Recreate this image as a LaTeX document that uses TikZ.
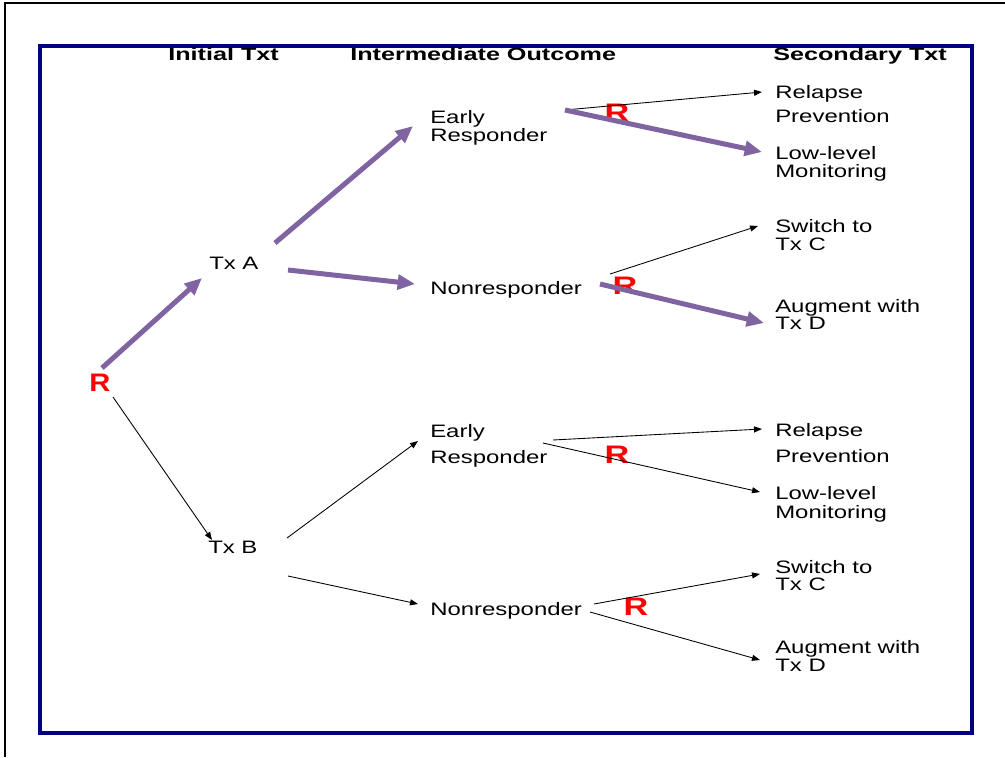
\documentclass[tikz,border=0pt]{standalone}
\usepackage{fontspec}
\usepackage{graphicx}
\setmainfont{Liberation Sans}
\usetikzlibrary{arrows.meta}
\definecolor{purp}{RGB}{128,100,162}
\definecolor{navyframe}{RGB}{0,0,128}
\newcommand\sx[1]{\scalebox{1.33}[1]{#1}}
\newcommand\sh[1]{\scalebox{1.42}[1]{#1}}
\newcommand\sr[1]{\scalebox{1.35}[1]{#1}}
\tikzset{
  lbl/.style={anchor=base west, inner sep=0pt, font=\fontsize{13.5}{15}\selectfont},
  hdr/.style={anchor=base west, inner sep=0pt, font=\bfseries\fontsize{13.3}{15}\selectfont},
  rnd/.style={text=red, inner sep=0pt, font=\bfseries\fontsize{19}{20}\selectfont},
  bigarrow/.style={draw=purp, line width=3.75pt, -{Triangle[length=13pt,width=11pt]}},
  smallarrow/.style={draw=black, line width=0.65pt, -{Triangle[length=6pt,width=4.5pt]}},
}
\begin{document}
\begin{tikzpicture}[x=0.75pt,y=-0.75pt]
\useasboundingbox (0,0) rectangle (1005,757);
% frames
\draw[black, line width=1.5pt] (5,757) -- (5,3) -- (1005,3);
\draw[navyframe, line width=3pt] (40,46) rectangle (972,733);
% headers
\node[hdr] (h1) at (168,60) {\sh{Initial Txt}};
\node[hdr] (h2) at (350,60) {\sh{Intermediate Outcome}};
\node[hdr] (h3) at (773,60) {\sh{Secondary Txt}};
% randomisation marks
\node[rnd] (R0) at (100,383) {\scalebox{1.15}[1]{R}};
\node[rnd] (R1) at (617,113) {\sr{R}};
\node[rnd] (R2) at (625,286) {\sr{R}};
\node[rnd] (R3) at (617,455) {\sr{R}};
\node[rnd] (R4) at (636,607) {\sr{R}};
% initial treatments
\node[lbl] (TxA) at (209,269) {\sx{Tx A}};
\node[lbl] (TxB) at (208,553) {\sx{Tx B}};
% intermediate outcomes
\node[lbl] (ER1a) at (430,123) {\sx{Early}};
\node[lbl] (ER1b) at (430,141) {\sx{Responder}};
\node[lbl] (NR1) at (430,294) {\sx{Nonresponder}};
\node[lbl] (ER2a) at (430,437) {\sx{Early}};
\node[lbl] (ER2b) at (430,463) {\sx{Responder}};
\node[lbl] (NR2) at (430,615) {\sx{Nonresponder}};
% secondary treatments
\node[lbl] (RP1a) at (775,98) {\sx{Relapse}};
\node[lbl] (RP1b) at (775,122) {\sx{Prevention}};
\node[lbl] (LL1a) at (775,159) {\sx{Low-level}};
\node[lbl] (LL1b) at (775,177) {\sx{Monitoring}};
\node[lbl] (SW1a) at (775,232) {\sx{Switch to}};
\node[lbl] (SW1b) at (775,250) {\sx{Tx C}};
\node[lbl] (AU1a) at (775,312) {\sx{Augment with}};
\node[lbl] (AU1b) at (775,329) {\sx{Tx D}};
\node[lbl] (RP2a) at (775,436) {\sx{Relapse}};
\node[lbl] (RP2b) at (775,462) {\sx{Prevention}};
\node[lbl] (LL2a) at (775,499) {\sx{Low-level}};
\node[lbl] (LL2b) at (775,518) {\sx{Monitoring}};
\node[lbl] (SW2a) at (775,573) {\sx{Switch to}};
\node[lbl] (SW2b) at (775,590) {\sx{Tx C}};
\node[lbl] (AU2a) at (775,653) {\sx{Augment with}};
\node[lbl] (AU2b) at (775,671) {\sx{Tx D}};
% connector end points
\coordinate (c1s) at (102,368); \coordinate (c1e) at (202,278);
\coordinate (c2s) at (275,243); \coordinate (c2e) at (413,126);
\coordinate (c3s) at (288,270); \coordinate (c3e) at (415,284);
\coordinate (c4s) at (565,110); \coordinate (c4e) at (762,152);
\coordinate (c5s) at (600,284); \coordinate (c5e) at (764,323);
\coordinate (c6s) at (113,397); \coordinate (c6e) at (212,540);
\coordinate (c7s) at (287,538); \coordinate (c7e) at (418,441);
\coordinate (c8s) at (288,576); \coordinate (c8e) at (418,604);
\coordinate (c9s) at (565,110); \coordinate (c9e) at (762,92);
\coordinate (c10s) at (610,274); \coordinate (c10e) at (758,226);
\coordinate (c11s) at (553,440); \coordinate (c11e) at (762,429);
\coordinate (c12s) at (543,443); \coordinate (c12e) at (760,492);
\coordinate (c13s) at (594,604); \coordinate (c13e) at (760,574);
\coordinate (c14s) at (590,612); \coordinate (c14e) at (760,660);
% thin arrows
\draw[smallarrow] (c9s) -- (c9e);
\draw[smallarrow] (c10s) -- (c10e);
\draw[smallarrow] (c6s) -- (c6e);
\draw[smallarrow] (c7s) -- (c7e);
\draw[smallarrow] (c8s) -- (c8e);
\draw[smallarrow] (c11s) -- (c11e);
\draw[smallarrow] (c12s) -- (c12e);
\draw[smallarrow] (c13s) -- (c13e);
\draw[smallarrow] (c14s) -- (c14e);
% thick arrows
\draw[bigarrow] (c1s) -- (c1e);
\draw[bigarrow] (c2s) -- (c2e);
\draw[bigarrow] (c3s) -- (c3e);
\draw[bigarrow] (c4s) -- (c4e);
\draw[bigarrow] (c5s) -- (c5e);
\end{tikzpicture}
\end{document}
